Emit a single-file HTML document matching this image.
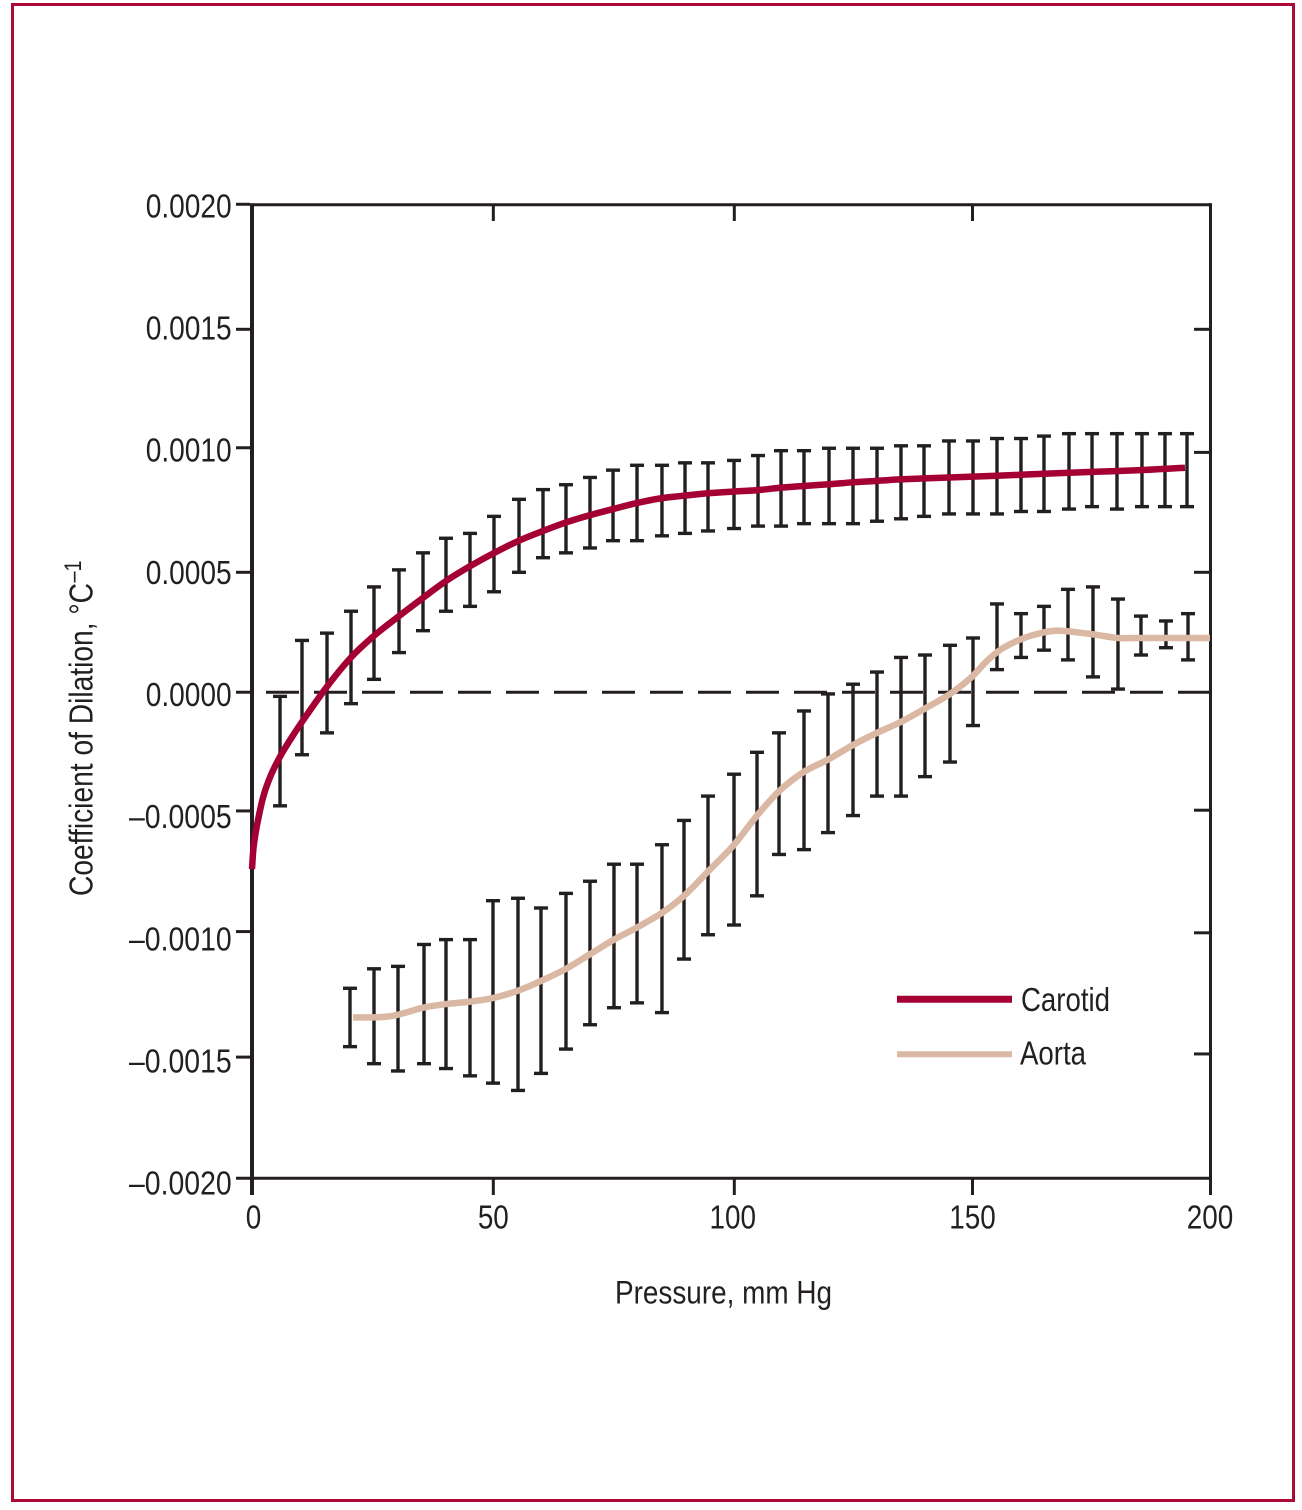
<!DOCTYPE html>
<html lang="en">
<head>
<meta charset="utf-8">
<title>Coefficient of Dilation vs Pressure</title>
<style>
  html, body { margin: 0; padding: 0; background: #fff; }
  svg { display: block; }
  text { font-family: "Liberation Sans", sans-serif; fill: #231f20; }
</style>
</head>
<body>
<svg id="chart" xmlns="http://www.w3.org/2000/svg" width="1302" height="1510" viewBox="0 0 1302 1510">
  <rect x="12.5" y="4.5" width="1281" height="1496" fill="#fff" stroke="#ae0a38" stroke-width="3"/>
  <g id="axes"></g>
  <g id="errors"></g>
  <g id="series"></g>
  <text x="615" y="1303.5" font-size="32" textLength="217" lengthAdjust="spacingAndGlyphs">Pressure, mm Hg</text>
  <text transform="translate(92.5,896) rotate(-90)" font-size="33" textLength="313" lengthAdjust="spacingAndGlyphs">Coefficient of Dilation, °C</text>
  <text transform="translate(81,582.5) rotate(-90)" font-size="24" textLength="22" lengthAdjust="spacingAndGlyphs">–1</text>
  <g>
    <line x1="897" x2="1012" y1="999.3" y2="999.3" stroke="#a50034" stroke-width="7"/>
    <text x="1021" y="1011" font-size="33" textLength="89" lengthAdjust="spacingAndGlyphs">Carotid</text>
    <line x1="897" x2="1012" y1="1054.3" y2="1054.3" stroke="#dab8a3" stroke-width="6"/>
    <text x="1020" y="1064.5" font-size="33" textLength="66" lengthAdjust="spacingAndGlyphs">Aorta</text>
  </g>
</svg>
<script>
// Axis labels and tick readings
const xTickLabels = ['0', '50', '100', '150', '200'];
const xTickValues = [0, 50.38, 100.69, 150.42, 200];
const yTickLabels = ['0.0020', '0.0015', '0.0010', '0.0005', '0.0000', '–0.0005', '–0.0010', '–0.0015', '–0.0020'];
const yLabelValues = [0.002, 0.0015, 0.001, 0.0005, 0, -0.0005, -0.001, -0.0015, -0.002];
const yTicksLeft = [0.002003, 0.001489, 0.001002, 0.00049, -0.000003, -0.000491, -0.000987, -0.001503, -0.002001];
const yTicksRight = [0.001489, 0.000983, 0.00049, -0.000488, -0.000992, -0.00149];
const referenceLevel = [-0.000003];

// Carotid mean curve
const carotidPressure = [0, 0.33, 0.98, 2.36, 3.97, 5.85, 7.93, 10.5, 15.66, 20.67, 25.53, 30.69, 35.7, 40.56, 45.51, 50.58, 55.74, 60.75, 65.55, 70.56, 75.37, 80.38, 85.59, 90.19, 95.2, 100.63, 105.64, 110.44, 115.24, 120.46, 125.47, 130.48, 135.28, 145.51, 155.53, 165.34, 175.37, 185.6, 194.78];
const carotidValues = [-0.00073, -0.00064, -0.000556, -0.000432, -0.000343, -0.000268, -0.0002, -0.000123, 0.00002, 0.00014, 0.00023, 0.00031, 0.000385, 0.000455, 0.000515, 0.00057, 0.00062, 0.00066, 0.000695, 0.000725, 0.00075, 0.000775, 0.000795, 0.000805, 0.000815, 0.000822, 0.000828, 0.000838, 0.000845, 0.000852, 0.00086, 0.000866, 0.000872, 0.00088, 0.000887, 0.000895, 0.000903, 0.00091, 0.00092];

// Carotid error bars
const carotidErrPressure = [5.85, 10.44, 15.66, 20.67, 25.47, 30.69, 35.7, 40.5, 45.51, 50.52, 55.74, 60.75, 65.55, 70.56, 75.37, 80.38, 85.59, 90.4, 95.2, 100.63, 105.64, 110.44, 115.24, 120.46, 125.47, 130.48, 135.49, 140.29, 145.51, 150.52, 155.53, 160.54, 165.34, 170.56, 175.37, 180.58, 185.8, 190.6, 195.2];
const carotidErrHigh = [-0.00002, 0.00021, 0.00024, 0.00033, 0.00043, 0.0005, 0.00057, 0.00063, 0.00065, 0.00072, 0.00079, 0.00083, 0.00085, 0.00088, 0.00091, 0.00093, 0.00093, 0.00094, 0.00094, 0.00095, 0.00097, 0.00099, 0.00099, 0.001, 0.001, 0.001, 0.00101, 0.00101, 0.00103, 0.00103, 0.00104, 0.00104, 0.00105, 0.00106, 0.00106, 0.00106, 0.00106, 0.00106, 0.00106];
const carotidErrLow = [-0.00047, -0.00026, -0.00017, -0.00005, 0.00005, 0.00016, 0.00025, 0.00033, 0.00035, 0.00041, 0.00049, 0.00055, 0.00057, 0.00059, 0.00062, 0.00062, 0.00064, 0.00065, 0.00066, 0.00067, 0.00068, 0.00068, 0.00069, 0.00069, 0.00069, 0.0007, 0.00071, 0.00072, 0.00073, 0.00073, 0.00073, 0.00074, 0.00074, 0.00075, 0.00076, 0.00075, 0.00076, 0.00076, 0.00076];

// Aorta mean curve
const aortaPressure = [21.09, 28.81, 35.7, 40.5, 45.51, 50.31, 55.53, 60.33, 65.55, 70.56, 75.57, 80.38, 85.59, 90.19, 95.2, 100.63, 105.43, 110.02, 115.24, 120.25, 125.47, 130.48, 135.49, 140.5, 145.72, 150.25, 153.38, 156.5, 160.54, 164.6, 168.68, 175.57, 180.79, 185.39, 200];
const aortaValues = [-0.00134, -0.001335, -0.0013, -0.001285, -0.001275, -0.00126, -0.00123, -0.00119, -0.00114, -0.00108, -0.00102, -0.00097, -0.00091, -0.00084, -0.00074, -0.00063, -0.00051, -0.00041, -0.00033, -0.00028, -0.00022, -0.00017, -0.000125, -0.00007, -0.00001, 0.00006, 0.000125, 0.000175, 0.000215, 0.00024, 0.00025, 0.000235, 0.00022, 0.00022, 0.00022];

// Aorta error bars
const aortaErrPressure = [20.46, 25.47, 30.48, 35.91, 40.5, 45.51, 50.31, 55.53, 60.33, 65.55, 70.56, 75.57, 80.38, 85.59, 90.19, 95.2, 100.63, 105.43, 110.02, 115.24, 120.25, 125.47, 130.48, 135.49, 140.5, 145.72, 150.52, 155.53, 160.54, 165.34, 170.35, 175.57, 180.79, 185.59, 190.81, 195.41];
const aortaErrHigh = [-0.00122, -0.00114, -0.00113, -0.00104, -0.00102, -0.00102, -0.00086, -0.00085, -0.00089, -0.00083, -0.00078, -0.00071, -0.00071, -0.00063, -0.00053, -0.00043, -0.00034, -0.00025, -0.00017, -0.00008, -0.00001, 0.00003, 0.00008, 0.00014, 0.00015, 0.00019, 0.00022, 0.00036, 0.00032, 0.00035, 0.00042, 0.00043, 0.00038, 0.00031, 0.00029, 0.00032];
const aortaErrLow = [-0.00146, -0.00153, -0.00156, -0.00153, -0.00155, -0.00158, -0.00161, -0.00164, -0.00157, -0.00147, -0.00137, -0.0013, -0.00128, -0.00132, -0.0011, -0.001, -0.00096, -0.00084, -0.00067, -0.00065, -0.00058, -0.00051, -0.00043, -0.00043, -0.00035, -0.00029, -0.00014, 0.00009, 0.00014, 0.00017, 0.00013, 0.00006, 0.00001, 0.00015, 0.00018, 0.00013];

const SVG_NS = 'http://www.w3.org/2000/svg';
const INK = '#231f20';

function xScale(p) { return 252 + p * 4.79; }
function yScale(v) { return 691.5 - v * 243250; }
function yLabelBaseline(v) { return 706 - v * 244300; }

function make(parent, tag, attrs) {
  const el = document.createElementNS(SVG_NS, tag);
  for (const k in attrs) el.setAttribute(k, attrs[k]);
  parent.appendChild(el);
  return el;
}

function smoothPath(xs, ys) {
  const pts = xs.map((x, i) => [xScale(x), yScale(ys[i])]);
  let d = 'M' + pts[0][0].toFixed(2) + ' ' + pts[0][1].toFixed(2);
  for (let i = 0; i < pts.length - 1; i++) {
    const p0 = pts[Math.max(0, i - 1)];
    const p1 = pts[i];
    const p2 = pts[i + 1];
    const p3 = pts[Math.min(pts.length - 1, i + 2)];
    const c1x = p1[0] + (p2[0] - p0[0]) / 6;
    const c1y = p1[1] + (p2[1] - p0[1]) / 6;
    const c2x = p2[0] - (p3[0] - p1[0]) / 6;
    const c2y = p2[1] - (p3[1] - p1[1]) / 6;
    d += 'C' + c1x.toFixed(2) + ' ' + c1y.toFixed(2) + ' ' + c2x.toFixed(2) + ' ' + c2y.toFixed(2) + ' ' + p2[0].toFixed(2) + ' ' + p2[1].toFixed(2);
  }
  return d;
}

const axes = document.getElementById('axes');
const errors = document.getElementById('errors');
const series = document.getElementById('series');

// Plot frame
const leftAxis = make(axes, 'line', { x1: 252, x2: 252, y1: 203.3, y2: 1195, stroke: INK, 'stroke-width': 4 });


const rightAxis = make(axes, 'line', { x1: 1210.5, x2: 1210.5, y1: 203.3, y2: 1195, stroke: INK, 'stroke-width': 3 });


const topAxis = make(axes, 'line', { x1: 252, x2: 1212, y1: 204.7, y2: 204.7, stroke: INK, 'stroke-width': 3 });


const bottomAxis = make(axes, 'line', { x1: 252, x2: 1212, y1: 1178.3, y2: 1178.3, stroke: INK, 'stroke-width': 3 });



// Zero reference line
referenceLevel.forEach(function (v) {
  const ref = make(axes, 'line', { x1: 266, x2: 1211, y1: yScale(v), y2: yScale(v), stroke: INK, 'stroke-width': 3, 'stroke-dasharray': '33 15' });
  
  
});

// Left ticks, outside the frame
yTicksLeft.forEach(function (v) {
  const t = make(axes, 'line', { x1: 236, x2: 250, y1: yScale(v), y2: yScale(v), stroke: INK, 'stroke-width': 3 });
  
  
});

// Right ticks, inside the frame
yTicksRight.forEach(function (v) {
  const t = make(axes, 'line', { x1: 1194, x2: 1209, y1: yScale(v), y2: yScale(v), stroke: INK, 'stroke-width': 3 });
  
  
});

// X ticks: downward from top frame and below the bottom frame
xTickValues.slice(1, 4).forEach(function (p) {
  const top = make(axes, 'line', { x1: xScale(p), x2: xScale(p), y1: 205, y2: 221, stroke: INK, 'stroke-width': 3 });
  
  
  const bottom = make(axes, 'line', { x1: xScale(p), x2: xScale(p), y1: 1179, y2: 1195, stroke: INK, 'stroke-width': 3 });
  
  
});

// Y tick labels
yTickLabels.forEach(function (label, i) {
  const negative = label.charAt(0) === '–';
  const width = negative ? 102.7 : 86;
  const t = make(axes, 'text', { x: 231.7 - width, y: yLabelBaseline(yLabelValues[i]), 'font-size': 33, textLength: width, lengthAdjust: 'spacingAndGlyphs' });
  
  
  t.textContent = label;
});

// X tick labels
xTickLabels.forEach(function (label, i) {
  const width = label.length * 15.5;
  const t = make(axes, 'text', { x: xScale(xTickValues[i]) - width / 2 + (i === 0 ? 1.5 : label === '100' ? -1.5 : 0), y: 1228.5, 'font-size': 33, textLength: width, lengthAdjust: 'spacingAndGlyphs' });
  
  
  t.textContent = label;
});

// Error bars
function drawErrorBars(name, xs, highs, lows) {
  xs.forEach(function (p, i) {
    const x = xScale(p);
    const yHigh = yScale(highs[i]);
    const yLow = yScale(lows[i]);
    const g = make(errors, 'g', {});
    
    
    make(g, 'line', { x1: x, x2: x, y1: yHigh, y2: yLow, stroke: INK, 'stroke-width': 3.4 });
    make(g, 'line', { x1: x - 7, x2: x + 7, y1: yHigh, y2: yHigh, stroke: INK, 'stroke-width': 3.4 });
    make(g, 'line', { x1: x - 7, x2: x + 7, y1: yLow, y2: yLow, stroke: INK, 'stroke-width': 3.4 });
  });
}
drawErrorBars('aorta', aortaErrPressure, aortaErrHigh, aortaErrLow);
drawErrorBars('carotid', carotidErrPressure, carotidErrHigh, carotidErrLow);

// Mean curves
const carotidLine = make(series, 'path', { d: smoothPath(carotidPressure, carotidValues), fill: 'none', stroke: '#a50034', 'stroke-width': 6.5 });


const aortaLine = make(series, 'path', { d: smoothPath(aortaPressure, aortaValues), fill: 'none', stroke: '#dab8a3', 'stroke-width': 6.5 });


</script>
</body>
</html>
